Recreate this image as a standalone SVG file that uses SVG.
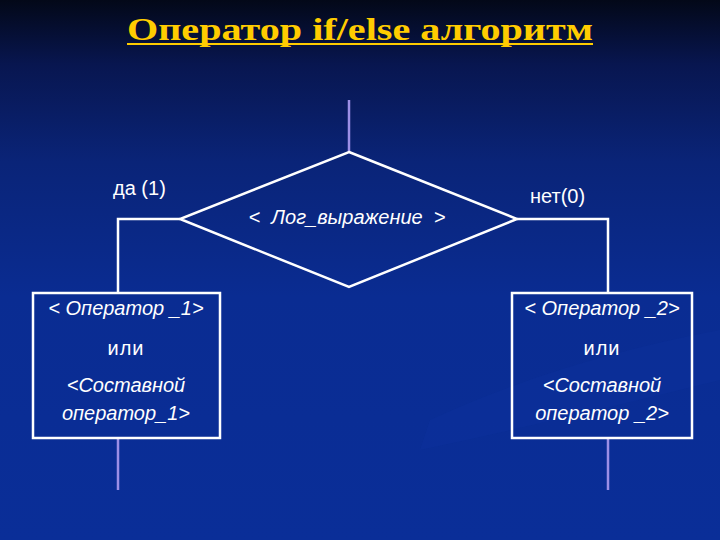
<svg xmlns="http://www.w3.org/2000/svg" width="720" height="540" viewBox="0 0 720 540">
<defs>
<linearGradient id="bg" x1="0" y1="0" x2="0" y2="1">
<stop offset="0" stop-color="#030818"/>
<stop offset="0.12" stop-color="#081650"/>
<stop offset="0.3" stop-color="#0a2478"/>
<stop offset="0.55" stop-color="#0a2c92"/>
<stop offset="1" stop-color="#0a2e98"/>
</linearGradient>
<style>
.t{font-family:"Liberation Sans","DejaVu Sans",sans-serif;font-size:20px;fill:#ffffff}
.i{font-style:italic}
.w{stroke:#ffffff;stroke-width:2.5;fill:none}
.p{stroke:#9c8fe6;stroke-width:2.5;fill:none}
</style>
</defs>
<rect width="720" height="540" fill="url(#bg)"/>
<path d="M430 420 Q560 360 720 330 L720 380 Q560 420 420 450 Z" fill="#0e3aa8" opacity="0.18"/>
<g id="title">
<text x="360" y="40" text-anchor="middle" font-family="Liberation Serif, serif" font-weight="bold" font-size="31" fill="#ffcc00" textLength="466" lengthAdjust="spacingAndGlyphs">Оператор if/else алгоритм</text>
<line x1="127" y1="44" x2="593" y2="44" stroke="#ffcc00" stroke-width="2"/>
</g>
<g id="connectors">
<line class="p" x1="349" y1="100" x2="349" y2="152"/>
<polyline class="w" points="180,219 118,219 118,293"/>
<polyline class="w" points="517,219 608,219 608,293"/>
<line class="p" x1="118" y1="438" x2="118" y2="490"/>
<line class="p" x1="608" y1="438" x2="608" y2="490"/>
</g>
<g id="cond">
<polygon class="w" points="349,152 517,219 349,287 180,219"/>
<text class="t i" x="347" y="224" text-anchor="middle" xml:space="preserve">&lt;  Лог_выражение  &gt;</text>
</g>
<g id="label-yes"><text class="t" x="113" y="195">да (1)</text></g>
<g id="label-no"><text class="t" x="530" y="203">нет(0)</text></g>
<g id="op1">
<rect class="w" x="33" y="293" width="187" height="145"/>
<text class="t i" x="126" y="315" text-anchor="middle">&lt; Оператор _1&gt;</text>
<text class="t" x="126" y="355" text-anchor="middle" letter-spacing="1">или</text>
<text class="t i" x="126" y="392" text-anchor="middle">&lt;Составной</text>
<text class="t i" x="126" y="420" text-anchor="middle">оператор_1&gt;</text>
</g>
<g id="op2">
<rect class="w" x="512" y="293" width="180" height="145"/>
<text class="t i" x="602" y="315" text-anchor="middle">&lt; Оператор _2&gt;</text>
<text class="t" x="602" y="355" text-anchor="middle" letter-spacing="1">или</text>
<text class="t i" x="602" y="392" text-anchor="middle">&lt;Составной</text>
<text class="t i" x="602" y="420" text-anchor="middle">оператор _2&gt;</text>
</g>
</svg>
